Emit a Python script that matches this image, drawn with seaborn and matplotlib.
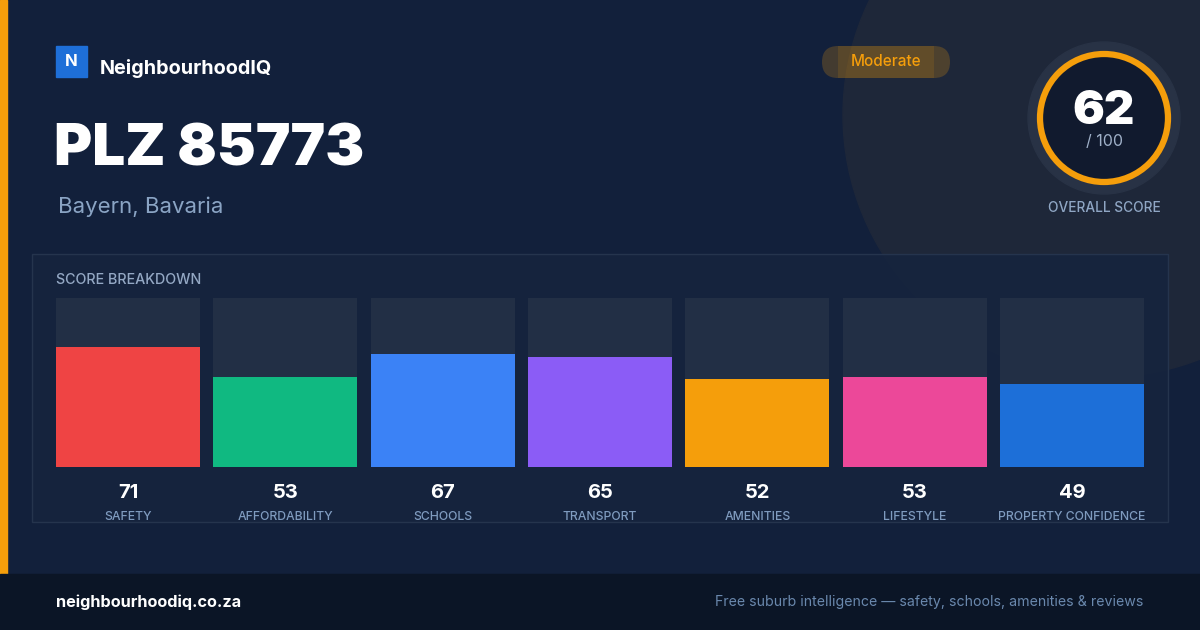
import matplotlib
matplotlib.use("Agg")
import matplotlib.pyplot as plt
import seaborn as sns
from matplotlib.patches import Rectangle, Circle, FancyBboxPatch

sns.set_style("white")
plt.rcParams['font.family'] = ['Inter', 'DejaVu Sans']

# dados do gráfico
categorias = ['SAFETY', 'AFFORDABILITY', 'SCHOOLS', 'TRANSPORT', 'AMENITIES', 'LIFESTYLE', 'PROPERTY CONFIDENCE']
notas = [71, 53, 67, 65, 52, 53, 49]
cores = ['#ef4444', '#10b981', '#3b82f6', '#8b5cf6', '#f59e0b', '#ec4899', '#1d6fd8']
maximo = [100] * len(categorias)
nota_geral = 62
nivel = 'Moderate'
titulo = 'PLZ 85773'
regiao = 'Bayern, Bavaria'
marca = 'NeighbourhoodIQ'
site = 'neighbourhoodiq.co.za'
slogan = 'Free suburb intelligence — safety, schools, amenities & reviews'

W, H = 1200, 630
fig = plt.figure(figsize=(12, 6.3), dpi=100)
fig.patch.set_facecolor('#12203b')

# camada de fundo em pixels
bg = fig.add_axes([0, 0, 1, 1])
bg.set_xlim(0, W)
bg.set_ylim(H, 0)
bg.axis('off')

bg.add_patch(Rectangle((0, 0), W, H, color='#12203b', zorder=0))
bg.add_patch(Circle((1105, 115), 262, color='#1e2739', zorder=1))
bg.add_patch(Rectangle((0, 0), 7, 574, color='#f59e0b', zorder=2))
bg.add_patch(Rectangle((0, 574), W, 56, color='#0b1526', zorder=2))

# cartão da análise
bg.add_patch(Rectangle((32, 254), 1136, 268, facecolor='#16243e', edgecolor='#27364f',
                       linewidth=1, alpha=0.92, zorder=3))
bg.text(56, 280, 'SCORE BREAKDOWN', color='#94a8c4', fontsize=10.3, fontweight='medium',
        va='center', zorder=4)

# logo e título
bg.add_patch(Rectangle((56, 46), 31, 31, color='#1e6fd8', zorder=4))
bg.text(71.5, 62, 'N', color='white', fontsize=12, fontweight='bold', ha='center', va='center', zorder=5)
bg.text(100, 68, marca, color='white', fontsize=14.3, fontweight='bold', va='center', zorder=5)
bg.text(54, 150, titulo, color='white', fontsize=42, fontweight='black', va='center', zorder=5)
bg.text(58, 207, regiao, color='#8aa4c4', fontsize=16, va='center', zorder=5)

# selo "Moderate"
bg.add_patch(FancyBboxPatch((822, 46), 128, 32, boxstyle='round,pad=0,rounding_size=16',
                            facecolor='#f59e0b', alpha=0.22, edgecolor='none', zorder=4))
bg.add_patch(Rectangle((838, 46), 96, 32, facecolor='#f59e0b', alpha=0.12, edgecolor='none', zorder=4))
bg.text(886, 62, nivel, color='#f59e0b', fontsize=11, fontweight='medium',
        va='center', ha='center', zorder=5)

# anel da nota geral
bg.add_patch(Circle((1104, 118), 76, color='#283245', zorder=4))
bg.add_patch(Circle((1104, 118), 64, facecolor='#111a2e', edgecolor='#f59e0b', linewidth=4.5, zorder=5))
bg.text(1104, 112, str(nota_geral), color='white', fontsize=34, fontweight='black',
        ha='center', va='center', zorder=6)
bg.text(1104, 142, '/ 100', color='#9fb0c8', fontsize=11.5, ha='center', va='center', zorder=6)
bg.text(1104, 208, 'OVERALL SCORE', color='#8fa6c4', fontsize=9.9, fontweight='medium',
        ha='center', va='center', zorder=6)

# rodapé
bg.text(56, 602, site, color='white', fontsize=11.7, fontweight='bold', va='center', zorder=5)
bg.text(1143, 602, slogan, color='#6a88ad', fontsize=10.2, ha='right', va='center', zorder=5)

# eixo das barras (0-100 entre y=467 e y=298)
passo = 157.33
x0 = 128 - 0.5 * passo
x1 = 128 + 6.5 * passo
ax = fig.add_axes([x0 / W, (H - 467) / H, (x1 - x0) / W, 169 / H])
ax.set_facecolor('none')
largura = 144 / passo
sns.barplot(x=categorias, y=maximo, color='#222f45', width=largura, saturation=1,
            linewidth=0, ax=ax)
sns.barplot(x=categorias, y=notas, hue=categorias, palette=cores, width=largura,
            saturation=1, linewidth=0, legend=False, ax=ax)
ax.set_xlim(-0.5, 6.5)
ax.set_ylim(0, 100)
ax.axis('off')

px = 100 / 169
for i, (cat, v) in enumerate(zip(categorias, notas)):
    ax.text(i, -26 * px, str(v), color='white', fontsize=14.5, fontweight='bold',
            ha='center', va='center', clip_on=False)
    ax.text(i, -50.5 * px, cat, color='#7f9bbf', fontsize=8.8, fontweight='medium',
            ha='center', va='center', clip_on=False)

fig.savefig('out.png', dpi=100, facecolor=fig.get_facecolor())
